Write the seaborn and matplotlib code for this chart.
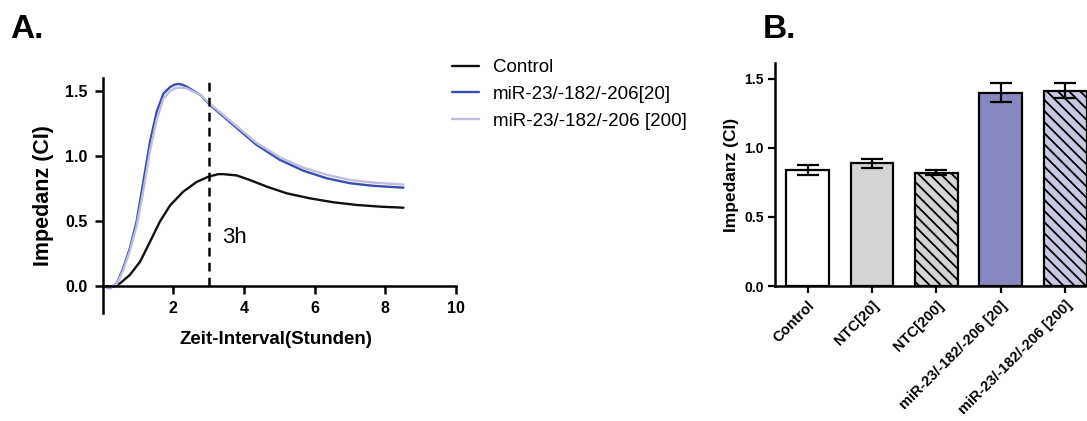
import numpy as np
import pandas as pd
import matplotlib
matplotlib.use("Agg")
import matplotlib.pyplot as plt
from matplotlib.ticker import FormatStrFormatter
import seaborn as sns

# ---------------- data ----------------
series_names = ["Control", "miR-23/-182/-206[20]", "miR-23/-182/-206 [200]"]

ctrl_t = [0, 0.30, 0.49, 0.77, 1.06, 1.34, 1.62, 1.91, 2.28, 2.66, 2.99, 3.27, 3.42,
          3.80, 4.17, 4.65, 5.21, 5.87, 6.53, 7.20, 7.86, 8.52]
ctrl_v = [0, -0.005, 0.02, 0.085, 0.187, 0.34, 0.495, 0.62, 0.725, 0.80, 0.84, 0.86, 0.86,
          0.85, 0.815, 0.764, 0.713, 0.674, 0.644, 0.623, 0.61, 0.602]

mir_t = [0, 0.21, 0.40, 0.58, 0.77, 0.96, 1.15, 1.34, 1.53, 1.72, 1.91, 2.03, 2.14, 2.26,
         2.38, 2.76, 3.04, 3.70, 4.36, 5.02, 5.68, 6.35, 7.01, 7.67, 8.52]
mir20_v = [0, -0.018, 0.02, 0.136, 0.29, 0.495, 0.80, 1.11, 1.34, 1.48, 1.53, 1.548, 1.554, 1.548,
           1.533, 1.47, 1.392, 1.238, 1.085, 0.97, 0.887, 0.828, 0.79, 0.77, 0.756]
mir200_v = [0, -0.015, 0.015, 0.12, 0.27, 0.46, 0.73, 1.04, 1.28, 1.44, 1.50, 1.518, 1.525, 1.525,
            1.52, 1.47, 1.40, 1.25, 1.10, 0.99, 0.91, 0.855, 0.815, 0.795, 0.78]

mark_time = 3
mark_label = "3h"

bar_categories = ["Control", "NTC[20]", "NTC[200]", "miR-23/-182/-206 [20]", "miR-23/-182/-206 [200]"]
bar_values = [0.837, 0.887, 0.819, 1.398, 1.412]
bar_errors = [0.038, 0.034, 0.017, 0.066, 0.052]

# ---------------- style ----------------
sns.set_style("ticks")
plt.rcParams["font.family"] = ["Liberation Sans", "DejaVu Sans"]
plt.rcParams["hatch.linewidth"] = 1.3
plt.rcParams["axes.linewidth"] = 1.8
for key in ["text.color", "axes.labelcolor", "xtick.color", "ytick.color", "axes.edgecolor"]:
    plt.rcParams[key] = "black"

line_colors = ["#111111", "#3a4db0", "#bdbde0"]
bar_colors = ["#ffffff", "#d4d4d4", "#d4d4d4", "#8888c0", "#c8c8e2"]
bar_hatches = ["", "", "\\\\\\", "", "\\\\\\"]

fig = plt.figure(figsize=(10.87, 4.21), dpi=100)
W, H = 1087, 421

# ---------------- panel A ----------------
axA = fig.add_axes([102.7 / W, (H - 313) / H, (455.7 - 102.7) / W, (313 - 77.7) / H])
df = pd.concat([
    pd.DataFrame({"t": ctrl_t, "v": ctrl_v, "s": series_names[0]}),
    pd.DataFrame({"t": mir_t, "v": mir200_v, "s": series_names[2]}),
    pd.DataFrame({"t": mir_t, "v": mir20_v, "s": series_names[1]}),
])
sns.lineplot(data=df, x="t", y="v", hue="s", hue_order=series_names,
             palette=dict(zip(series_names, line_colors)), linewidth=1.7,
             sort=False, estimator=None, ax=axA)
axA.set_xlim(0, 10)
axA.set_ylim(-0.208, 1.602)
axA.vlines(mark_time, 0, 1.602, colors="black", linestyles=(0, (3.5, 2.5)), linewidth=1.8)
axA.text(mark_time + 0.37, 0.37, mark_label, fontsize=16, va="center", ha="left")
axA.spines["top"].set_visible(False)
axA.spines["right"].set_visible(False)
axA.spines["bottom"].set_position(("data", 0))
axA.set_xticks([2, 4, 6, 8, 10])
axA.set_yticks([0, 0.5, 1.0, 1.5])
axA.yaxis.set_major_formatter(FormatStrFormatter("%.1f"))
axA.tick_params(axis="both", length=6, width=1.8, labelsize=11.5, pad=5)
for lab in axA.get_xticklabels() + axA.get_yticklabels():
    lab.set_fontweight("bold")
axA.set_xlabel("Zeit-Interval(Stunden)", fontsize=13.5, fontweight="bold")
axA.set_ylabel("Impedanz (CI)", fontsize=15.5, fontweight="bold", labelpad=8)
axA.xaxis.set_label_coords(0.49, -0.075)

handles, labels = axA.get_legend_handles_labels()
axA.legend(handles, labels, loc="upper left", bbox_to_anchor=(452 / W, (H - 59) / H),
           bbox_transform=fig.transFigure, frameon=False, fontsize=13.5,
           handlelength=1.45, handletextpad=0.75, labelspacing=0.52,
           borderpad=0, borderaxespad=0)

# ---------------- panel B ----------------
axB = fig.add_axes([775 / W, (H - 286) / H, (1087 - 775) / W, (286 - 63.3) / H])
sns.barplot(x=bar_categories, y=bar_values, hue=bar_categories, palette=bar_colors,
            saturation=1, legend=False, width=0.667, edgecolor="black", linewidth=1.6, ax=axB)
for patch, hatch in zip(axB.patches, bar_hatches):
    patch.set_hatch(hatch)
axB.errorbar(x=np.arange(len(bar_categories)), y=bar_values, yerr=bar_errors,
             fmt="none", ecolor="black", elinewidth=1.6, capsize=8, capthick=1.6)
axB.set_xlim(-0.507, 4.34)
axB.set_ylim(0, 1.61)
axB.spines["top"].set_visible(False)
axB.spines["right"].set_visible(False)
axB.set_yticks([0, 0.5, 1.0, 1.5])
axB.yaxis.set_major_formatter(FormatStrFormatter("%.1f"))
axB.tick_params(axis="both", length=5, width=1.6, labelsize=10, pad=3)
axB.tick_params(axis="x", labelsize=10.5, pad=4)
plt.setp(axB.get_xticklabels(), rotation=45, ha="right", rotation_mode="anchor", fontweight="bold")
plt.setp(axB.get_yticklabels(), fontweight="bold")
axB.set_xlabel("")
axB.set_ylabel("Impedanz (CI)", fontsize=12.5, fontweight="bold", labelpad=4)

# ---------------- panel letters ----------------
fig.text(10 / W, (H - 37.5) / H, "A.", fontsize=24, fontweight="bold", va="baseline")
fig.text(763 / W, (H - 37.5) / H, "B.", fontsize=24, fontweight="bold", va="baseline")

fig.savefig("out.png", dpi=100)
